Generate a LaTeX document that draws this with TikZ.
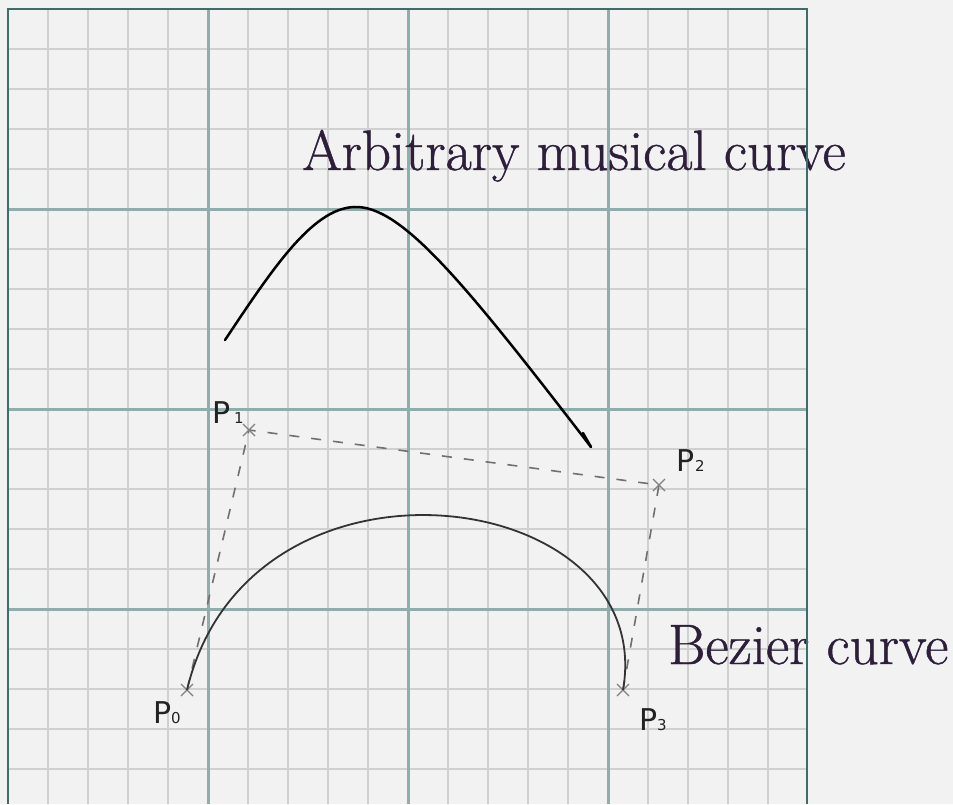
\documentclass[tikz,border=0pt]{standalone}
\usepackage{fontspec}
\newfontfamily\labelfont{DejaVu Sans}
\newfontfamily\bigfont{Latin Modern Roman}[RawFeature={embolden=0.8}]
\definecolor{bg}{HTML}{F2F2F2}
\definecolor{minor}{HTML}{D0D0D0}
\definecolor{major}{HTML}{8EAEAB}
\definecolor{frame}{HTML}{3C6C6B}
\definecolor{txt}{HTML}{2D1E3A}
\definecolor{ptc}{HTML}{222222}
\definecolor{dashc}{HTML}{707070}
\tikzset{
  minorline/.style={minor, line width=2.8pt},
  majorline/.style={major, line width=3pt},
  framebox/.style={frame, line width=2pt},
  ctrl/.style={dashc, dash pattern=on 10pt off 12pt, line width=1.6pt},
  crossmark/.style={gray, line width=1.1pt},
  bez/.style={black!80, line width=1.8pt},
  musical/.style={black, line width=2.5pt, line cap=round, line join=round},
  bigtext/.style={anchor=base west, inner sep=0pt, text=txt, font=\bigfont\fontsize{57}{66}\selectfont},
  plabel/.style={anchor=base west, inner sep=0pt, text=ptc, font=\labelfont\fontsize{30}{34}\selectfont},
  psub/.style={anchor=base west, inner sep=0pt, text=ptc, font=\labelfont\fontsize{15}{17}\selectfont}
}
\begin{document}
\begin{tikzpicture}[x=1pt,y=-1pt]
\useasboundingbox (0,0) rectangle (953,804);
\fill[bg] (0,0) rectangle (953,804);
% minor grid
\foreach \i in {48,88,...,768} \draw[minorline] (\i,9) -- (\i,804);
\foreach \j in {49,89,...,769} \draw[minorline] (8,\j) -- (807,\j);
% major grid
\foreach \i in {208,408,608} \draw[majorline] (\i,9) -- (\i,804);
\foreach \j in {209,409,609} \draw[majorline] (8,\j) -- (807,\j);
% control points
\coordinate (P0) at (187,690);
\coordinate (P1) at (249,430);
\coordinate (P2) at (659,485);
\coordinate (P3) at (623,690);
\draw[ctrl] (P0) -- (P1) -- (P2) -- (P3);
\foreach \p in {P0,P1,P2,P3}
  \draw[crossmark] ([shift={(-6,-6)}]\p) -- ([shift={(6,6)}]\p) ([shift={(-6,6)}]\p) -- ([shift={(6,-6)}]\p);
\draw[bez] (P0) .. controls (P1) and (P2) .. (P3);
% arbitrary curve
\coordinate (A0) at (225,340);
\coordinate (A1) at (358,207);
\coordinate (A2) at (591,447);
\coordinate (Ab) at (583,433);
\draw[musical] (A0) .. controls (275,265) and (315,205) .. (A1)
  .. controls (405,209) and (470,290) .. (A2);
\draw[musical] (Ab) -- (A2);
% labels
\node[plabel] (l1) at (212,423) {P};
\node[psub] (s1) at (234,423) {1};
\node[plabel] (l2) at (676,471) {P};
\node[psub] (s2) at (695,471) {2};
\node[plabel] (l0) at (153,723) {P};
\node[psub] (s0) at (171,723) {0};
\node[plabel] (l3) at (639,730) {P};
\node[psub] (s3) at (657,730) {3};
\node[bigtext] (t1) at (302,170) {Arbitrary musical curve};
\node[bigtext] (t2) at (668,664) {Bezier curve};
% frame
\draw[framebox] (807,804) -- (807,9) -- (8,9) -- (8,804);
\end{tikzpicture}
\end{document}
